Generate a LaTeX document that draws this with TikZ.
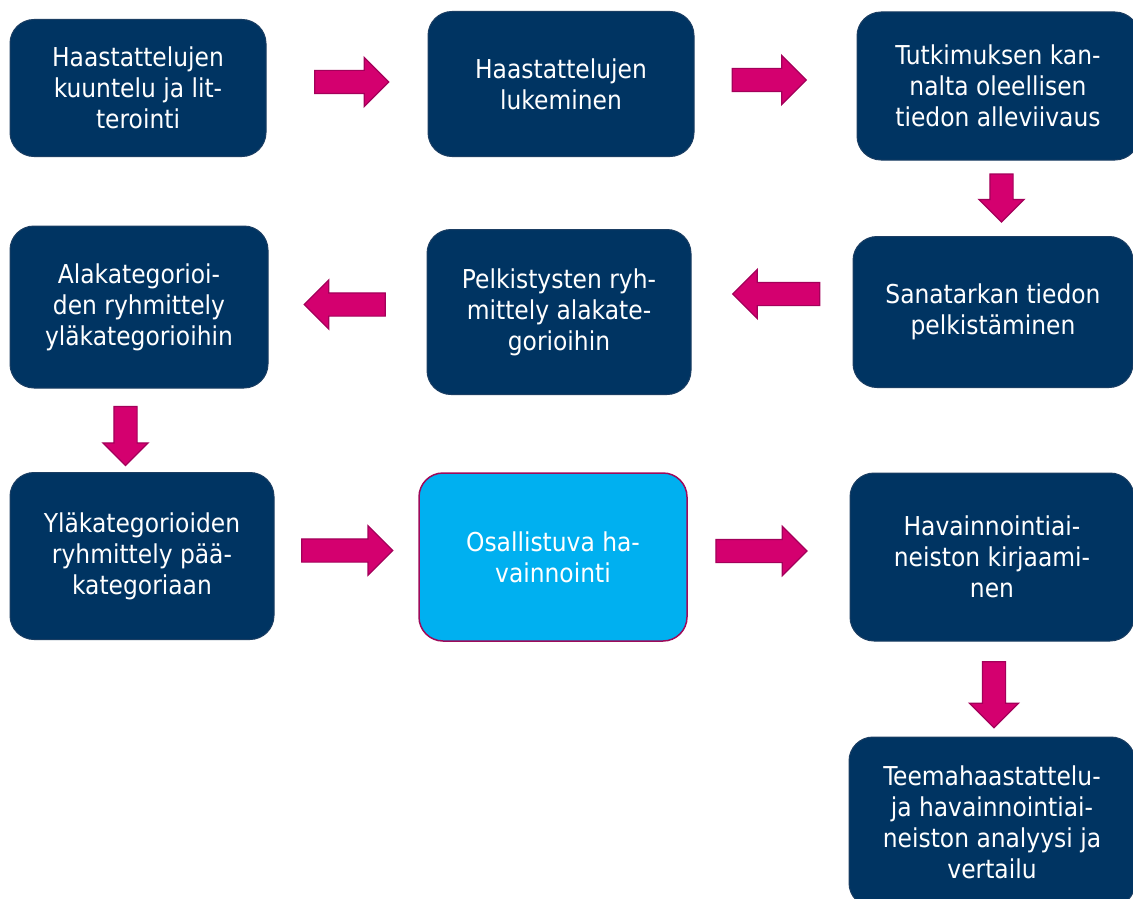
\documentclass[tikz,border=0pt]{standalone}
\usepackage{fontspec}
\setmainfont{DejaVu Sans Condensed}
\usetikzlibrary{calc,positioning,shapes.arrows}

\definecolor{navy}{HTML}{003462}
\definecolor{navyline}{HTML}{1B3E63}
\definecolor{skyfill}{HTML}{00B0F0}
\definecolor{plum}{HTML}{9E0A5A}
\definecolor{magenta}{HTML}{D4006F}
\definecolor{magentaline}{HTML}{A3005A}

\begin{document}
\begin{tikzpicture}[
            x=1pt,y=-1pt,
            every node/.append style={align=center,text=white,font=\fontsize{26}{31}\selectfont},
            stepbox/.style={rectangle,rounded corners=24pt,fill=navy,draw=navyline,line width=1pt,inner sep=0pt},
            focusbox/.style={stepbox,fill=skyfill,draw=plum,line width=1.5pt},
            flowarrow/.style={single arrow,fill=magenta,draw=magentaline,line width=1.2pt,
                inner xsep=0pt,inner ysep=11pt,single arrow head extend=13pt}
        ]
            \useasboundingbox (0,0) rectangle (1133,899);

            % first row
            \node[stepbox,minimum width=256pt,minimum height=137pt] (listen) at (138,88)
                {Haastattelujen\\kuuntelu ja lit-\\terointi};
            \node[stepbox,minimum width=266pt,minimum height=145pt] (read) at (561,84)
                {Haastattelujen\\lukeminen};
            \node[stepbox,minimum width=282pt,minimum height=148pt] (underline) at (998,86)
                {Tutkimuksen kan-\\nalta oleellisen\\tiedon alleviivaus};

            % second row
            \node[stepbox,minimum width=280pt,minimum height=151pt] (reduce) at (993,312)
                {Sanatarkan tiedon\\pelkistäminen};
            \node[stepbox,minimum width=264pt,minimum height=165pt] (subcat) at (559,312)
                {Pelkistysten ryh-\\mittely alakate-\\gorioihin};
            \node[stepbox,minimum width=258pt,minimum height=162pt] (uppercat) at (139,307)
                {Alakategorioi-\\den ryhmittely\\yläkategorioihin};

            % third row
            \node[stepbox,minimum width=264pt,minimum height=167pt] (maincat) at (142,556)
                {Yläkategorioiden\\ryhmittely pää-\\kategoriaan};
            \node[focusbox,minimum width=268pt,minimum height=168pt] (observe) at (553,557)
                {Osallistuva ha-\\vainnointi};
            \node[stepbox,minimum width=284pt,minimum height=168pt] (record) at (992,557)
                {Havainnointiai-\\neiston kirjaami-\\nen};
            \node[stepbox,minimum width=286pt,minimum height=170pt] (compare) at (992,822)
                {Teemahaastattelu-\\ja havainnointiai-\\neiston analyysi ja\\vertailu};

            % arrows between the steps
            \node[flowarrow,minimum height=74pt] (a1) at ($(listen.east)!0.5!(read.west)+(-1,-4)$) {};
            \node[flowarrow,minimum height=74pt] (a2) at ($(read.east)!0.5!(underline.west)+(-12,-5)$) {};
            \node[flowarrow,minimum height=48pt,single arrow head extend=11pt,rotate=-90] (a3)
                at ($(underline.south)!0.5!(reduce.north)+(6,-6)$) {};
            \node[flowarrow,minimum height=87pt,rotate=180] (a4) at ($(reduce.west)!0.5!(subcat.east)+(10,-18)$) {};
            \node[flowarrow,minimum height=81pt,rotate=180] (a5) at ($(subcat.west)!0.5!(uppercat.east)+(3,-5)$) {};
            \node[flowarrow,minimum height=59pt,single arrow head extend=11pt,rotate=-90] (a6)
                at ($(uppercat.south)!0.5!(maincat.north)+(-15,0)$) {};
            \node[flowarrow,minimum height=91pt] (a7) at ($(maincat.east)!0.5!(observe.west)+(-5,-6)$) {};
            \node[flowarrow,minimum height=91pt] (a8) at ($(observe.east)!0.5!(record.west)+(-13,-6)$) {};
            \node[flowarrow,minimum height=66pt,rotate=-90] (a9) at ($(record.south)!0.5!(compare.north)+(2,0)$) {};
        \end{tikzpicture}
\end{document}
